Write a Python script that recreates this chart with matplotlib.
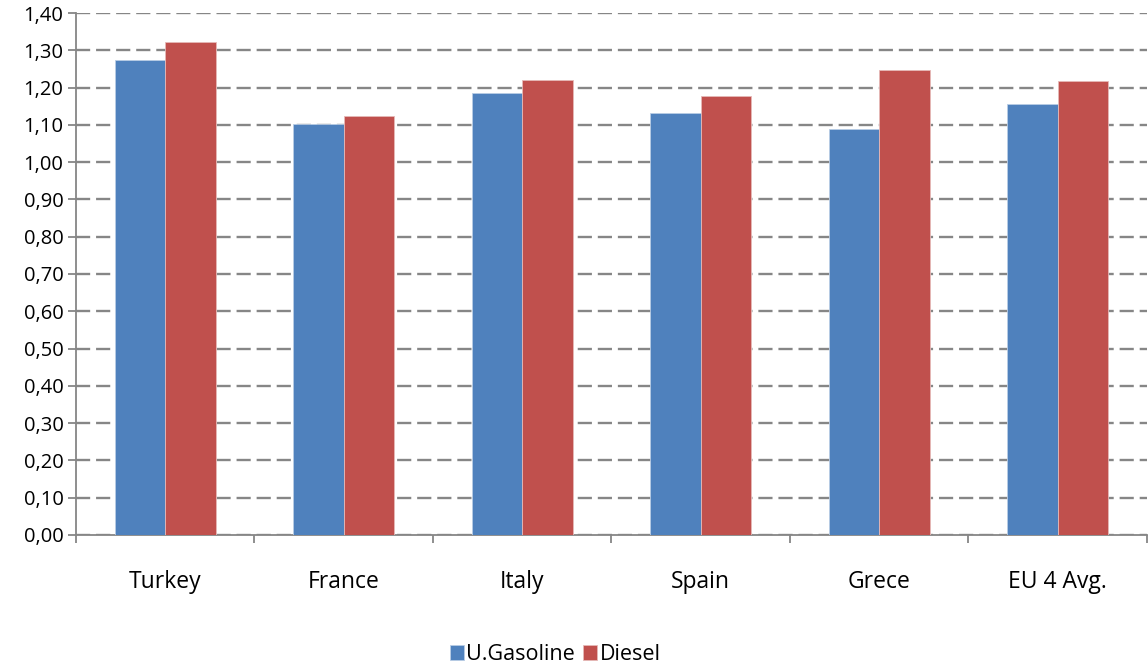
import numpy as np
import matplotlib.pyplot as plt
from matplotlib.ticker import FuncFormatter, MultipleLocator

plt.rcParams['font.family'] = ['Open Sans', 'DejaVu Sans']

# fuel prices by country
countries = ['Turkey', 'France', 'Italy', 'Spain', 'Grece', 'EU 4 Avg.']
gasoline = [1.273, 1.103, 1.185, 1.133, 1.090, 1.157]
diesel = [1.323, 1.123, 1.220, 1.177, 1.246, 1.217]

blue = '#4F81BD'
red = '#C0504D'
grid_gray = '#868686'

fig = plt.figure(figsize=(11.48, 6.67), dpi=100)
ax = fig.add_axes([0.0662, 0.198, 0.9328, 0.7825])

x = np.arange(len(countries))
w = 0.283
ax.bar(x - w / 2, gasoline, w, color=blue, edgecolor='#B9CDE5', linewidth=0.6,
       label='U.Gasoline', zorder=3)
ax.bar(x + w / 2, diesel, w, color=red, edgecolor='#E6B9B8', linewidth=0.6,
       label='Diesel', zorder=3)

ax.set_xlim(-0.5, len(countries) - 0.5)
ax.set_ylim(0, 1.40)
ax.yaxis.set_major_locator(MultipleLocator(0.10))
ax.yaxis.set_major_formatter(FuncFormatter(lambda v, p: f'{v:.2f}'.replace('.', ',')))

ax.grid(axis='y', color=grid_gray, linestyle=(0, (6, 2.5)), linewidth=1.7, zorder=0)
for s in ['top', 'right']:
    ax.spines[s].set_visible(False)
for s in ['left', 'bottom']:
    ax.spines[s].set_color(grid_gray)
    ax.spines[s].set_linewidth(1.3)

ax.set_xticks(np.arange(-0.5, len(countries)), minor=False)
ax.set_xticklabels([])
ax.set_xticks(x, minor=True)
ax.set_xticklabels(countries, minor=True, fontsize=16.5)
ax.tick_params(axis='x', which='major', length=6, color=grid_gray, width=1.3)
ax.tick_params(axis='x', which='minor', length=0, pad=25)
ax.tick_params(axis='y', length=6, color=grid_gray, width=1.3, labelsize=14.5, pad=3)

fig.legend(loc='lower center', bbox_to_anchor=(0.4835, -0.026), ncol=2, frameon=False,
           fontsize=15.5, handlelength=0.65, handleheight=0.65, handletextpad=0.1,
           columnspacing=0.4)

fig.savefig('out.png')
